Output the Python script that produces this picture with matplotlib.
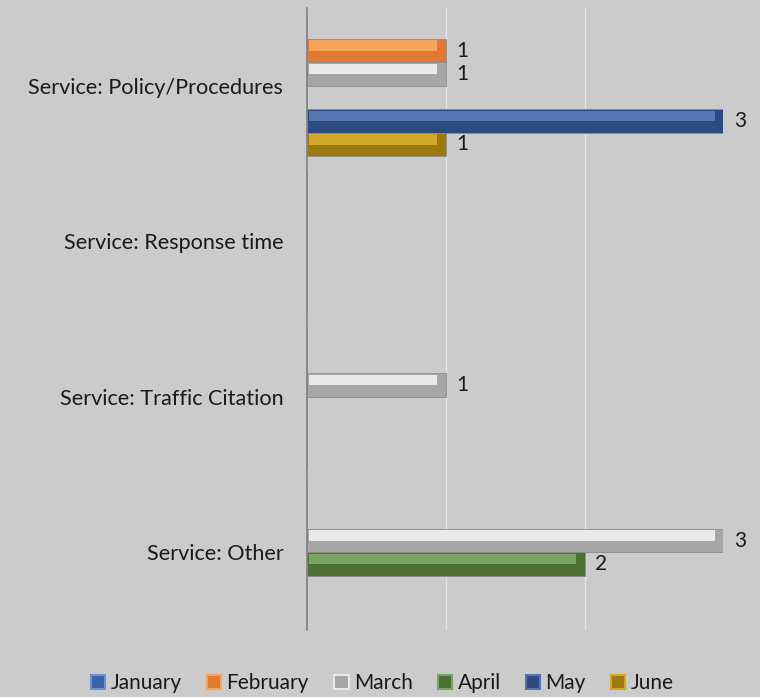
import matplotlib
matplotlib.use("Agg")
import matplotlib.pyplot as plt
from matplotlib.patches import Patch
import numpy as np

categories = ["Service: Policy/Procedures", "Service: Response time",
              "Service: Traffic Citation", "Service: Other"]
series_names = ["January", "February", "March", "April", "May", "June"]
january = [0, 0, 0, 0]
february = [1, 0, 0, 0]
march = [1, 0, 1, 3]
april = [0, 0, 0, 2]
may = [3, 0, 0, 0]
june = [1, 0, 0, 0]
series_values = [january, february, march, april, may, june]

base_colors = ["#3a62a8", "#e07a32", "#a6a6a6", "#4b6f35", "#2c4a7f", "#9d7a10"]
light_colors = ["#6a93d6", "#f7a35c", "#e9e9e9", "#78a662", "#5576b3", "#d3a82a"]

FONT = ["Lato", "DejaVu Sans"]
plt.rcParams['font.family'] = FONT

bg = "#cbcbcb"
fig = plt.figure(figsize=(7.6, 6.97), dpi=100, facecolor=bg)
ax = fig.add_axes([0.4039, 0.0961, 0.548, 0.8924], facecolor=bg)

n = len(series_names)
h = 0.151
y = np.arange(len(categories))
inset = 0.06
for i, (vals, name) in enumerate(zip(series_values, series_names)):
    vals = np.array(vals, dtype=float)
    off = (i - (n - 1) / 2) * h
    ax.barh(y + off, vals, height=h, color=base_colors[i],
            edgecolor="#8c8c8c", linewidth=0.6, zorder=3)
    # highlight (bevel) on upper part
    hl = np.where(vals > 0, np.maximum(vals - inset - 0.015, 0), 0)
    ax.barh(y + off - h * 0.21, hl, left=0.015 * (vals > 0), height=h * 0.46,
            color=light_colors[i], linewidth=0, zorder=4)
    for yy, v in zip(y + off, vals):
        if v > 0:
            ax.text(v + 0.075, yy, f"{int(v)}", va="center", ha="left",
                    fontsize=15, color="#1a1a1a", zorder=5)

ax.set_ylim(len(categories) - 0.5, -0.5)
ax.set_xlim(0, 3)
ax.set_yticks(y)
ax.set_yticklabels(categories, fontsize=15.6, color="#1a1a1a")
ax.tick_params(axis="y", length=0, pad=17)
ax.set_xticks([0, 1, 2, 3])
ax.tick_params(axis="x", length=0, labelbottom=False)
ax.grid(axis="x", color="#e4e4e4", linewidth=1.0, zorder=0)
for s in ["top", "right", "bottom"]:
    ax.spines[s].set_visible(False)
ax.spines["left"].set_color("#7f7f7f")
ax.spines["left"].set_linewidth(1.2)
ax.spines["left"].set_zorder(6)

handles = [Patch(facecolor=base_colors[i], edgecolor=light_colors[i], linewidth=1.5)
           for i in range(n)]
fig.legend(handles, series_names, loc="center", bbox_to_anchor=(0.503, 0.0195),
           ncol=n, frameon=False, fontsize=15, handlelength=0.7, handleheight=0.7,
           handletextpad=0.25, columnspacing=1.2, labelcolor="#1a1a1a")

fig.savefig("out.png", dpi=100, facecolor=bg)
